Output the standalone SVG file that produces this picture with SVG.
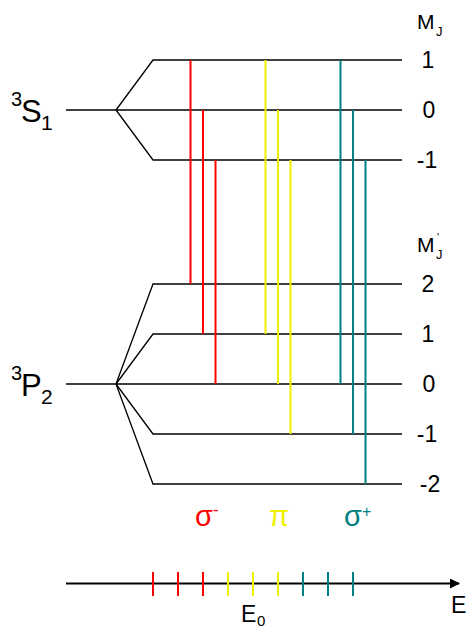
<svg xmlns="http://www.w3.org/2000/svg" width="467" height="628" viewBox="0 0 467 628">
<defs>
<style>
.lv{stroke:#000;stroke-width:1.3;fill:none}
.r{stroke:#ff0000;stroke-width:2}
.y{stroke:#f0f000;stroke-width:2}
.t{stroke:#008080;stroke-width:2}
text{font-family:"Liberation Sans",Arial,sans-serif;fill:#000}
.num{font-size:23px;text-anchor:middle}
</style>
<marker id="ah" markerWidth="10" markerHeight="10" refX="9" refY="5" orient="auto" markerUnits="userSpaceOnUse">
<path d="M0,0 L10,5 L0,10 Z" fill="#000"/>
</marker>
</defs>
<g id="S1">
<path class="lv" d="M66,110 H402 M116,110 L153,60 H402 M116,110 L153,160 H402"/>
<text x="11" y="106" font-size="20">3</text>
<text x="21" y="122" font-size="31">S</text>
<text x="41" y="130" font-size="21">1</text>
</g>
<g id="P2">
<path class="lv" d="M66,384 H402 M116,384 L153,284 H402 M116,384 L153,334 H402 M116,384 L153,434 H402 M116,384 L153,484 H402"/>
<text x="11" y="380" font-size="20">3</text>
<text x="21" y="396" font-size="31">P</text>
<text x="41" y="404" font-size="21">2</text>
</g>
<g id="labels-upper">
<text x="417" y="29" font-size="21">M</text>
<text x="436" y="36" font-size="13">J</text>
<text class="num" x="428" y="68">1</text>
<text class="num" x="429" y="118">0</text>
<text class="num" x="427" y="168">-1</text>
</g>
<g id="labels-lower">
<text x="417" y="252" font-size="21">M</text>
<text x="437" y="241" font-size="10">'</text>
<text x="436" y="259" font-size="13">J</text>
<text class="num" x="428" y="292">2</text>
<text class="num" x="428" y="342">1</text>
<text class="num" x="429" y="392">0</text>
<text class="num" x="427" y="442">-1</text>
<text class="num" x="430" y="492">-2</text>
</g>
<g id="connectors">
<line class="r" x1="190.5" y1="60" x2="190.5" y2="284"/>
<line class="r" x1="203" y1="110" x2="203" y2="334"/>
<line class="r" x1="215.5" y1="160" x2="215.5" y2="384"/>
<line class="y" x1="265.5" y1="60" x2="265.5" y2="334"/>
<line class="y" x1="278" y1="110" x2="278" y2="384"/>
<line class="y" x1="290.5" y1="160" x2="290.5" y2="434"/>
<line class="t" x1="340.5" y1="60" x2="340.5" y2="384"/>
<line class="t" x1="353" y1="110" x2="353" y2="434"/>
<line class="t" x1="365.5" y1="160" x2="365.5" y2="484"/>
</g>
<g id="pol-labels">
<text x="195" y="526" font-size="29" style="fill:#ff0000">σ</text>
<text x="213" y="515" font-size="17" style="fill:#ff0000">-</text>
<text x="269" y="526" font-size="29" style="fill:#f0f000">π</text>
<text x="344" y="526" font-size="29" style="fill:#008080">σ</text>
<text x="362" y="517" font-size="16" style="fill:#008080">+</text>
</g>
<g id="axis">
<line x1="66" y1="583.5" x2="459" y2="583.5" stroke="#000" stroke-width="2" marker-end="url(#ah)"/>
<path class="r" d="M153,572 V596 M178,572 V596 M203,572 V596"/>
<path class="y" d="M228,572 V596 M253,572 V596 M278,572 V596"/>
<path class="t" d="M303,572 V596 M328,572 V596 M353,572 V596"/>
<text x="451" y="613" font-size="23">E</text>
<text x="241" y="622" font-size="23">E</text>
<text x="257" y="626" font-size="15">0</text>
</g>
</svg>
